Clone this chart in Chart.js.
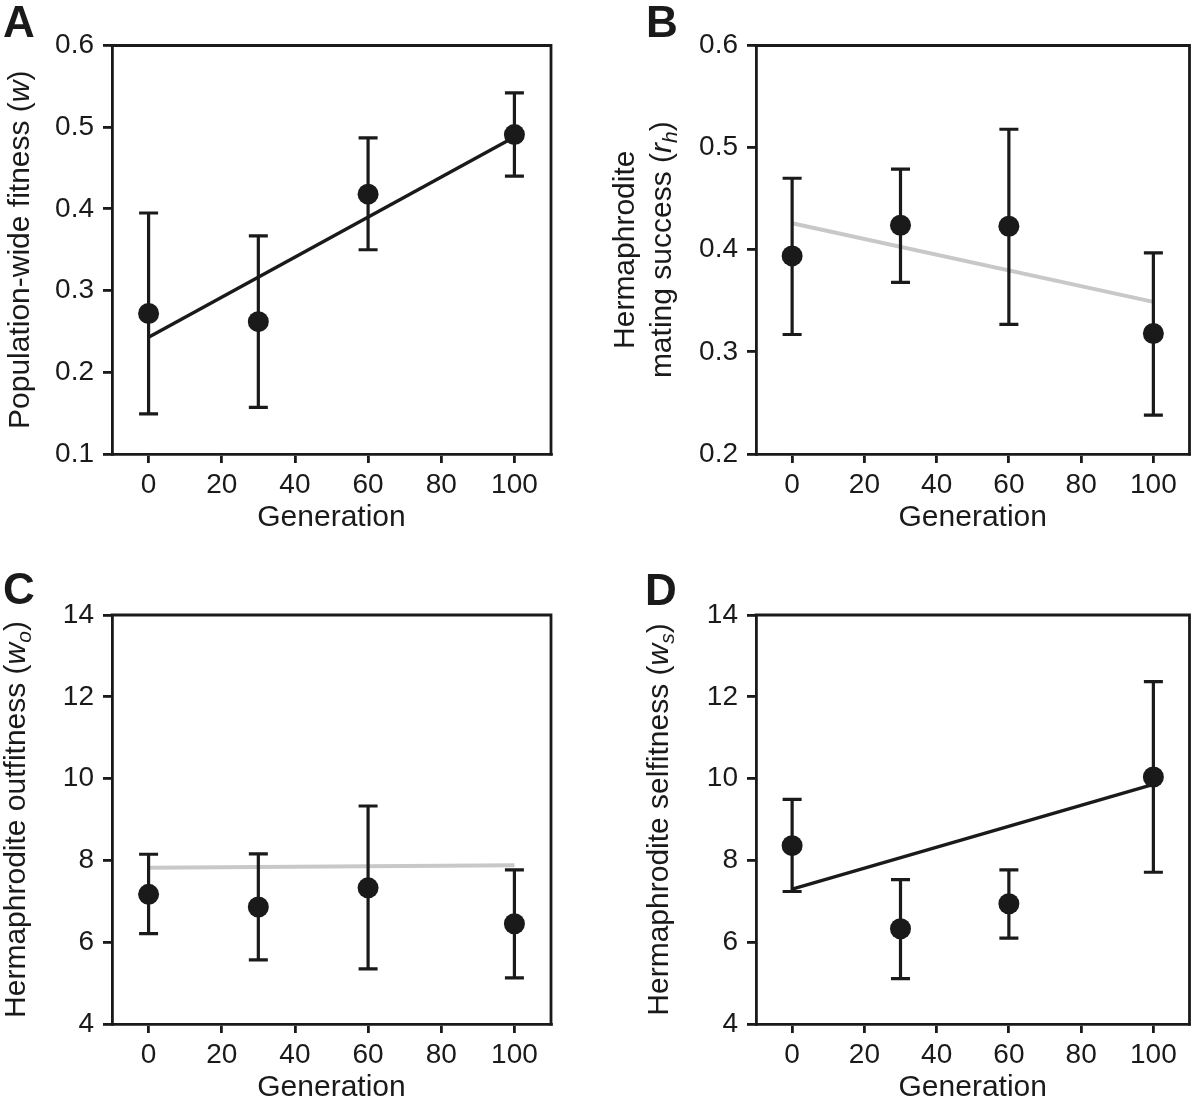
<!DOCTYPE html>
<html>
<head>
<meta charset="utf-8">
<script src="https://cdn.jsdelivr.net/npm/chart.js@4/dist/chart.umd.min.js"></script>
<style>
html,body{margin:0;padding:0;background:#fff;width:1200px;height:1099px;overflow:hidden;}
.panel{position:absolute;}
canvas{display:block;}
</style>
</head>
<body>
<div class="panel" style="left:0;top:0;"><canvas id="cA" width="600" height="550"></canvas></div>
<div class="panel" style="left:600px;top:0;"><canvas id="cB" width="600" height="550"></canvas></div>
<div class="panel" style="left:0;top:560px;"><canvas id="cC" width="600" height="539"></canvas></div>
<div class="panel" style="left:600px;top:560px;"><canvas id="cD" width="600" height="539"></canvas></div>
<script>
// ---------- data ----------
const generations = [0, 30, 60, 100];
const xTickValues = [0, 20, 40, 60, 80, 100];
const xTickLabels = ['0', '20', '40', '60', '80', '100'];

// A: population-wide fitness
const meanA  = [0.272, 0.262, 0.418, 0.491];
const upperA = [0.395, 0.367, 0.487, 0.542];
const lowerA = [0.149, 0.157, 0.350, 0.440];
const fitA   = [0.243, 0.488];
const yTicksA = [0.1, 0.2, 0.3, 0.4, 0.5, 0.6];
const yLabelsA = ['0.1', '0.2', '0.3', '0.4', '0.5', '0.6'];

// B: hermaphrodite mating success
const meanB  = [0.394, 0.424, 0.423, 0.318];
const upperB = [0.470, 0.479, 0.518, 0.397];
const lowerB = [0.317, 0.368, 0.327, 0.238];
const fitB   = [0.426, 0.349];
const yTicksB = [0.2, 0.3, 0.4, 0.5, 0.6];
const yLabelsB = ['0.2', '0.3', '0.4', '0.5', '0.6'];

// C: hermaphrodite outfitness
const meanC  = [7.17, 6.86, 7.33, 6.45];
const upperC = [8.15, 8.16, 9.33, 7.77];
const lowerC = [6.21, 5.57, 5.35, 5.13];
const fitC   = [7.82, 7.88];
const yTicksC = [4, 6, 8, 10, 12, 14];
const yLabelsC = ['4', '6', '8', '10', '12', '14'];

// D: hermaphrodite selfitness
const meanD  = [8.36, 6.33, 6.94, 10.04];
const upperD = [9.49, 7.53, 7.77, 12.37];
const lowerD = [7.24, 5.11, 6.10, 7.71];
const fitD   = [7.30, 9.86];
const yTicksD = [4, 6, 8, 10, 12, 14];
const yLabelsD = ['4', '6', '8', '10', '12', '14'];

// ---------- style ----------
const INK = '#1a1a1a';
const GRAY = '#c8c8c8';
const FONT = '"Liberation Sans", Arial, Helvetica, sans-serif';
const TICK_SIZE = 28;
const TITLE_SIZE = 30;

function drawRich(ctx, segs, cx, cy, size, rotate) {
  let total = 0;
  const parts = segs.map(s => {
    const fs = s.sub ? Math.round(size * 0.7) : size;
    const font = (s.it ? 'italic ' : '') + fs + 'px ' + FONT;
    ctx.font = font;
    const w = ctx.measureText(s.t).width;
    total += w;
    return { s, font, w };
  });
  ctx.save();
  ctx.translate(cx, cy);
  if (rotate) ctx.rotate(-Math.PI / 2);
  ctx.textAlign = 'left';
  ctx.textBaseline = 'alphabetic';
  ctx.fillStyle = INK;
  let x = -total / 2;
  for (const p of parts) {
    ctx.font = p.font;
    ctx.fillText(p.s.t, x, p.s.sub ? size * 0.22 : 0);
    x += p.w;
  }
  ctx.restore();
}

const framePlugin = {
  id: 'frame',
  afterDraw(chart) {
    const { ctx, chartArea: a } = chart;
    ctx.save();
    ctx.strokeStyle = INK;
    ctx.lineWidth = 2.8;
    ctx.lineCap = 'square';
    ctx.beginPath();
    ctx.moveTo(a.left, a.top);
    ctx.lineTo(a.right, a.top);
    ctx.lineTo(a.right, a.bottom);
    ctx.stroke();
    ctx.restore();
  }
};

const errorPlugin = {
  id: 'errbars',
  afterDatasetsDraw(chart) {
    const { ctx, scales } = chart;
    const cfg = chart.config.options.plugins.errbars;
    ctx.save();
    ctx.strokeStyle = INK;
    ctx.lineWidth = 3.2;
    ctx.lineCap = 'butt';
    cfg.xs.forEach((g, i) => {
      const px = scales.x.getPixelForValue(g);
      const pu = scales.y.getPixelForValue(cfg.upper[i]);
      const pl = scales.y.getPixelForValue(cfg.lower[i]);
      ctx.beginPath();
      ctx.moveTo(px, pu); ctx.lineTo(px, pl);
      ctx.moveTo(px - 9.5, pu); ctx.lineTo(px + 9.5, pu);
      ctx.moveTo(px - 9.5, pl); ctx.lineTo(px + 9.5, pl);
      ctx.stroke();
    });
    ctx.restore();
  }
};

const labelPlugin = {
  id: 'labels',
  afterDraw(chart) {
    const { ctx, chartArea: a } = chart;
    const cfg = chart.config.options.plugins.labels;
    ctx.save();
    ctx.fillStyle = INK;
    ctx.font = 'bold 44px ' + FONT;
    ctx.textAlign = 'left';
    ctx.textBaseline = 'alphabetic';
    ctx.fillText(cfg.letter, cfg.letterX, cfg.letterY);
    ctx.restore();
    drawRich(ctx, [{ t: 'Generation' }], (a.left + a.right) / 2, cfg.xTitleY, TITLE_SIZE, false);
    const cy = (a.top + a.bottom) / 2;
    cfg.yTitle.forEach(line => {
      drawRich(ctx, line.segs, line.cx + 7.5, cy, TITLE_SIZE, true);
    });
  }
};

function makePanel(id, p) {
  const ticksFont = { family: FONT, size: TICK_SIZE };
  return new Chart(document.getElementById(id), {
    type: 'scatter',
    data: {
      datasets: [
        {
          type: 'line',
          data: [{ x: generations[0], y: p.fit[0] }, { x: generations[generations.length - 1], y: p.fit[1] }],
          borderColor: p.fitColor,
          borderWidth: p.fitWidth,
          pointRadius: 0,
          fill: false,
          tension: 0,
          order: 2
        },
        {
          type: 'scatter',
          data: generations.map((g, i) => ({ x: g, y: p.mean[i] })),
          pointRadius: 10.5,
          pointHoverRadius: 10.5,
          backgroundColor: INK,
          borderColor: INK,
          borderWidth: 0,
          order: 1
        }
      ]
    },
    options: {
      responsive: false,
      animation: false,
      devicePixelRatio: 1,
      events: [],
      layout: { padding: { top: p.padTop, right: p.padRight, left: 0, bottom: 0 } },
      plugins: {
        legend: { display: false },
        tooltip: { enabled: false },
        errbars: { xs: generations, upper: p.upper, lower: p.lower },
        labels: p.labels
      },
      scales: {
        x: {
          type: 'linear',
          min: -10, max: 110,
          afterBuildTicks: s => { s.ticks = xTickValues.map(v => ({ value: v })); },
          afterFit: s => { s.height = p.xH; },
          grid: { drawOnChartArea: false, drawTicks: true, tickLength: 9, color: INK, lineWidth: 2.8 },
          border: { display: true, color: INK, width: 2.8 },
          ticks: { font: ticksFont, color: INK, padding: 5, maxRotation: 0, autoSkip: false,
                   callback: (v, i) => xTickLabels[i] }
        },
        y: {
          type: 'linear',
          min: p.yMin, max: p.yMax,
          afterBuildTicks: s => { s.ticks = p.yTicks.map(v => ({ value: v })); },
          afterFit: s => { s.width = p.yW; },
          grid: { drawOnChartArea: false, drawTicks: true, tickLength: 9, color: INK, lineWidth: 2.8 },
          border: { display: true, color: INK, width: 2.8 },
          ticks: { font: ticksFont, color: INK, padding: 9, autoSkip: false,
                   callback: (v, i) => p.yLabels[i] }
        }
      }
    },
    plugins: [framePlugin, errorPlugin, labelPlugin]
  });
}

makePanel('cA', {
  mean: meanA, upper: upperA, lower: lowerA, fit: fitA, fitColor: INK, fitWidth: 3.4,
  yMin: 0.1, yMax: 0.6, yTicks: yTicksA, yLabels: yLabelsA,
  padTop: 45.5, padRight: 49, yW: 112, xH: 96,
  labels: { letter: 'A', letterX: 3, letterY: 37, xTitleY: 526,
    yTitle: [{ cx: 21, segs: [{ t: 'Population-wide fitness (' }, { t: 'w', it: true }, { t: ')' }] }] }
});
makePanel('cB', {
  mean: meanB, upper: upperB, lower: lowerB, fit: fitB, fitColor: GRAY, fitWidth: 4,
  yMin: 0.2, yMax: 0.6, yTicks: yTicksB, yLabels: yLabelsB,
  padTop: 45.5, padRight: 4, yW: 156, xH: 96,
  labels: { letter: 'B', letterX: 46, letterY: 37, xTitleY: 526,
    yTitle: [
      { cx: 26, segs: [{ t: 'Hermaphrodite' }] },
      { cx: 63, segs: [{ t: 'mating success (' }, { t: 'r', it: true }, { t: 'h', it: true, sub: true }, { t: ')' }] }
    ] }
});
makePanel('cC', {
  mean: meanC, upper: upperC, lower: lowerC, fit: fitC, fitColor: GRAY, fitWidth: 4,
  yMin: 4, yMax: 14, yTicks: yTicksC, yLabels: yLabelsC,
  padTop: 55, padRight: 49, yW: 112, xH: 75,
  labels: { letter: 'C', letterX: 3, letterY: 44, xTitleY: 536,
    yTitle: [{ cx: 17, segs: [{ t: 'Hermaphrodite outfitness (' }, { t: 'w', it: true }, { t: 'o', it: true, sub: true }, { t: ')' }] }] }
});
makePanel('cD', {
  mean: meanD, upper: upperD, lower: lowerD, fit: fitD, fitColor: INK, fitWidth: 3.4,
  yMin: 4, yMax: 14, yTicks: yTicksD, yLabels: yLabelsD,
  padTop: 55, padRight: 4, yW: 156, xH: 75,
  labels: { letter: 'D', letterX: 45, letterY: 45, xTitleY: 536,
    yTitle: [{ cx: 60, segs: [{ t: 'Hermaphrodite selfitness (' }, { t: 'w', it: true }, { t: 's', it: true, sub: true }, { t: ')' }] }] }
});
</script>
</body>
</html>
